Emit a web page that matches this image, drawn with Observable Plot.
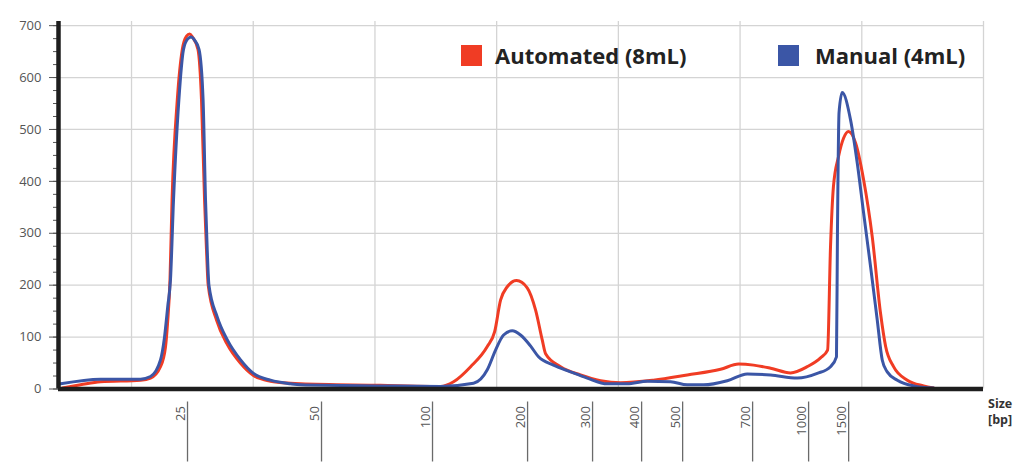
<!DOCTYPE html>
<html>
<head>
<meta charset="utf-8">
<script src="https://cdn.jsdelivr.net/npm/d3@7"></script>
<script src="https://cdn.jsdelivr.net/npm/@observablehq/plot@0.6"></script>
<style>
  html, body { margin: 0; padding: 0; background: #fff; }
  #wrap { position: relative; width: 1024px; height: 465px; font-family: "Open Sans", sans-serif; }
  .leg { position: absolute; top: 40px; display: flex; align-items: center; font-weight: 700; font-size: 22px; color: #222; white-space: nowrap; }
  .sw { width: 21px; height: 21px; }
  #size { position: absolute; left: 988px; top: 396px; font-weight: 700; font-size: 12.5px; line-height: 16px; color: #333; }
</style>
</head>
<body>
<div id="wrap"></div>
<script>
// x positions are in migration units (gridlines every 100); sizes are the ladder labels
const xTickPos = [46, 156.1, 247.3, 325.4, 378.8, 419.1, 452.8, 510.3, 556.3, 589.2];
const xTickLabels = ["25", "50", "100", "200", "300", "400", "500", "700", "1000", "1500"];
const yTicks = [0, 100, 200, 300, 400, 500, 600, 700];
const seriesNames = ["Automated (8mL)", "Manual (4mL)"];
const seriesColors = ["#f03c24", "#3b56a6"];

const autoX = [-56.7,-41.9,-25.5,7.4,15.6,23.8,27.9,29.6,31.6,33.3,37.6,41.7,45.2,47.7,50.1,54.6,57.5,60.0,61.6,63.0,70.0,78.2,89.4,100.2,114.2,130.6,138.9,204.6,245.7,253.9,264.6,278.6,292.3,298.3,303.2,308.7,316.4,325.1,332.0,337.5,340.2,352.5,368.9,385.4,401.8,428.9,456.6,484.0,498.8,511.1,525.1,541.5,555.2,566.1,571.9,574.3,576.7,580.9,585.0,589.1,594.9,601.5,608.6,615.4,619.6,626.1,637.4,650.8,659.0];
const autoY = [2,8,14,17,21,43,81,127,210,364,557,654,680,684,678,654,557,364,268,200,132,88,50,26,15,11,10,7,5,5,14,43,82,110,171,197,209,195,152,94,68,43,27,16,12,17,27,38,48,46,40,31,43,60,75,274,390,448,483,496,474,403,293,146,82,43,17,6,2];

const manX = [-58.3,-25.5,7.4,15.6,23.8,27.1,29.8,32.0,34.5,38.9,42.7,46.0,48.9,51.8,55.5,58.8,60.8,62.2,63.6,70.4,78.6,89.6,100.2,114.2,130.6,138.9,204.6,253.9,281.0,292.3,299.1,305.7,312.8,319.6,327.8,334.4,346.7,360.7,374.4,390.9,407.3,423.7,442.9,456.6,470.0,489.5,505.9,525.1,547.0,563.4,574.3,579.2,580.0,581.3,583.9,590.8,596.3,601.5,607.2,612.7,616.8,620.9,629.2,642.6,659.0];
const manY = [10,19,19,24,56,100,160,210,364,557,654,674,678,672,654,557,364,268,200,139,95,56,30,17,10,8,6,5,11,37,75,104,112,104,83,62,46,33,21,10,10,15,14,8,8,16,29,27,21,30,43,62,300,532,571,518,435,339,236,133,56,33,17,6,2];

const autoData = autoX.map((x, i) => ({x, y: autoY[i]}));
const manData = manX.map((x, i) => ({x, y: manY[i]}));

const chart = Plot.plot({
  width: 1024,
  height: 465,
  marginLeft: 58,
  marginRight: 41,
  marginTop: 21,
  marginBottom: 76.5,
  x: {domain: [-60, 700]},
  y: {domain: [0, 708]},
  style: {fontFamily: "Open Sans, sans-serif", fontSize: "13px", color: "#555", background: "#fff"},
  marks: [
    Plot.gridY(yTicks, {stroke: "#d4d4d4", strokeOpacity: 1, strokeWidth: 1.3}),
    Plot.gridX(d3.range(0, 701, 100), {stroke: "#d4d4d4", strokeOpacity: 1, strokeWidth: 1.3}),
    Plot.line(autoData, {x: "x", y: "y", stroke: seriesColors[0], strokeWidth: 3, curve: "monotone-x"}),
    Plot.line(manData, {x: "x", y: "y", stroke: seriesColors[1], strokeWidth: 3, curve: "monotone-x"}),
    Plot.axisY(d3.range(0, 701, 25), {tickSize: 5, text: null, stroke: "#555", label: null}),
    Plot.axisY(yTicks, {tickSize: 9, tickPadding: 8, stroke: "#555", fill: "#555", label: null, fontSize: 13}),
    Plot.axisX(xTickPos, {tickSize: 60, text: null, dy: 13, stroke: "#6a6a6a", strokeWidth: 1.3, label: null}),
    Plot.text(xTickPos, {x: d => d, text: (d, i) => xTickLabels[i], frameAnchor: "bottom", dy: 17, dx: -3, rotate: -90, textAnchor: "end", lineAnchor: "bottom", fill: "#555", fontSize: 13}),
    Plot.ruleY([0], {stroke: "#1e1e1e", strokeWidth: 4.5}),
    Plot.ruleX([-60], {stroke: "#1e1e1e", strokeWidth: 4.5})
  ]
});

const wrap = document.getElementById("wrap");
wrap.appendChild(chart);

const legLeft = [461, 778];
const legGap = [13, 16];
seriesNames.forEach((name, i) => {
  const d = document.createElement("div");
  d.className = "leg";
  d.style.left = legLeft[i] + "px";
  d.innerHTML = `<span class="sw" style="background:${seriesColors[i]};margin-right:${legGap[i]}px"></span><span>${name}</span>`;
  wrap.appendChild(d);
});
const s = document.createElement("div");
s.id = "size";
s.innerHTML = "Size<br>[bp]";
wrap.appendChild(s);
</script>
</body>
</html>
